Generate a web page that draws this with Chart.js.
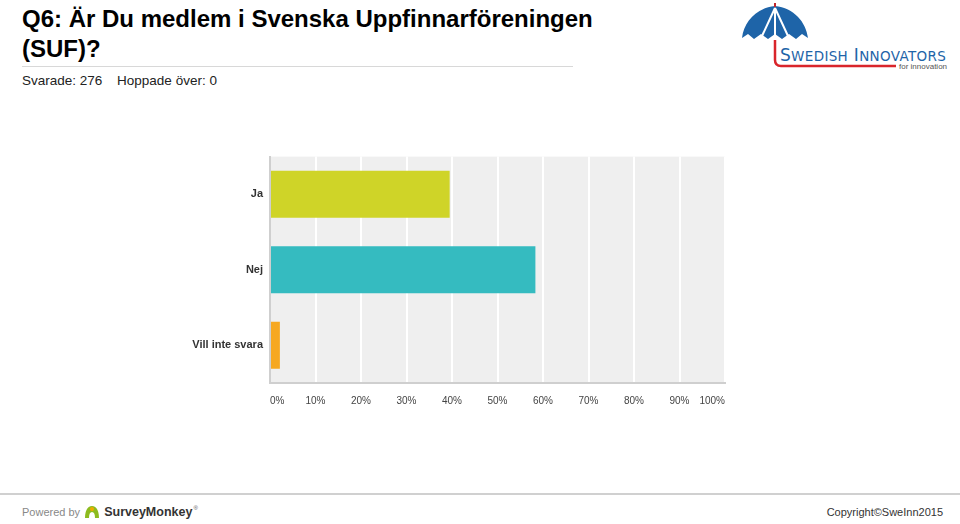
<!DOCTYPE html>
<html>
<head>
<meta charset="utf-8">
<script src="https://cdn.jsdelivr.net/npm/chart.js@4"></script>
<style>
  body { margin: 0; background: #fff; font-family: "Liberation Sans", Arial, sans-serif; }
  #page { position: relative; width: 960px; height: 524px; overflow: hidden; }
  #title { position: absolute; left: 22px; top: 4px; font-size: 24px; font-weight: bold; line-height: 30px; color: #000; }
  #rule { position: absolute; left: 22px; top: 66px; width: 551px; height: 1px; background: #d8d8d8; }
  #meta { position: absolute; left: 22px; top: 73px; font-size: 13.5px; color: #222; }
  #meta span { margin-right: 11px; }
  #logo { position: absolute; left: 738px; top: 2px; }
  #chartBox { position: absolute; left: 0; top: 143px; width: 740px; height: 277px; }
  #footRule { position: absolute; left: 0; top: 493px; width: 960px; height: 2px; background: #d0d0d0; }
  #powered { position: absolute; left: 22px; top: 505px; font-size: 11px; color: #888; display: flex; align-items: center; }
  #powered b { color: #333; font-size: 12.5px; font-weight: bold; margin-left: 3px; }
  #copy { position: absolute; right: 17px; top: 506px; font-size: 11px; color: #333; }
</style>
</head>
<body>
<div id="page">
  <div id="title">Q6: Är Du medlem i Svenska Uppfinnarföreningen<br>(SUF)?</div>
  <div id="rule"></div>
  <div id="meta"><span>Svarade: 276</span> <span>Hoppade över: 0</span></div>

  <svg id="logo" width="215" height="70" viewBox="0 0 215 70">
    <path d="M37 4 C18 6 6 20 4 36 L10 32 L16 37 L23 32 L30 37 L37 32 L44 37 L51 32 L58 37 L64 32 L70 36 C68 20 56 6 37 4 Z" fill="#1e64a8"/>
    <path d="M37 6 L24 34 M37 6 L50 34 M37 6 L37 33" stroke="#fff" stroke-width="2" fill="none"/>
    <line x1="37" y1="1" x2="37" y2="5" stroke="#c0272d" stroke-width="2"/>
    <path d="M37 38 L37 58 Q37 64 43 64 L158 64" stroke="#d9252b" stroke-width="2.5" fill="none"/>
    <text x="42" y="59" font-family="DejaVu Sans, sans-serif" font-size="17" fill="#1e64a8" letter-spacing="0.2" textLength="166">S<tspan font-size="13.5">WEDISH</tspan> I<tspan font-size="13.5">NNOVATORS</tspan></text>
    <text x="161" y="67" font-family="Liberation Sans, sans-serif" font-size="8" fill="#555">for innovation</text>
  </svg>

  <div id="chartBox"><canvas id="chart"></canvas></div>

  <div id="footRule"></div>
  <div id="powered">Powered by&nbsp;
    <svg width="18" height="14" viewBox="0 0 18 14"><path d="M2 13 C2 5 5 1 9 1 C13 1 16 5 16 13 L12 13 C12 9 11 7 9 7 C7 7 6 9 6 13 Z" fill="#8dbb1f"/><circle cx="9" cy="4" r="2" fill="#f2a900"/></svg>
    <b>SurveyMonkey</b><span style="font-size:6px;color:#555;margin-left:1px;position:relative;top:-4px">®</span>
  </div>
  <div id="copy">Copyright©SweInn2015</div>
</div>

<script>
const categories = ['Ja', 'Nej', 'Vill inte svara'];
const percentages = [39.49, 58.33, 2.17];
const barColors = ['#cfd428', '#35bbc0', '#f6a821'];
const tickValues = [0, 10, 20, 30, 40, 50, 60, 70, 80, 90, 100];

// grey plot background behind the bars
const plotBackground = {
  id: 'plotBackground',
  beforeDraw(chart) {
    const { ctx, chartArea } = chart;
    ctx.save();
    ctx.fillStyle = '#efefef';
    ctx.fillRect(chartArea.left, chartArea.top, chartArea.right - chartArea.left, chartArea.bottom - chartArea.top);
    ctx.restore();
  }
};

new Chart(document.getElementById('chart'), {
  type: 'bar',
  data: {
    labels: categories,
    datasets: [{
      data: percentages,
      backgroundColor: barColors,
      borderWidth: 0,
      barPercentage: 0.7,
      categoryPercentage: 0.89
    }]
  },
  plugins: [plotBackground],
  options: {
    indexAxis: 'y',
    responsive: true,
    maintainAspectRatio: false,
    animation: false,
    layout: { padding: { top: 0, right: 15, left: 0, bottom: 0 } },
    plugins: { legend: { display: false }, tooltip: { enabled: false } },
    scales: {
      x: {
        min: 0,
        max: 100,
        afterBuildTicks(scale) { scale.ticks = tickValues.map(v => ({ value: v })); },
        afterFit(scale) { scale.height = 37; },
        grid: { color: '#ffffff', lineWidth: 2, drawTicks: false },
        border: { display: true, color: '#cfcfcf', width: 2 },
        ticks: {
          align: 'inner',
          padding: 12,
          color: '#444',
          font: { family: 'Liberation Sans, Arial', size: 10 },
          callback: v => v + '%'
        }
      },
      y: {
        afterFit(scale) { scale.width = 270; },
        grid: { display: false, drawTicks: false },
        border: { display: true, color: '#cfcfcf', width: 2 },
        ticks: {
          padding: 7,
          color: '#333',
          font: { family: 'Liberation Sans, Arial', size: 11, weight: 'bold' }
        }
      }
    }
  }
});
</script>
</body>
</html>
